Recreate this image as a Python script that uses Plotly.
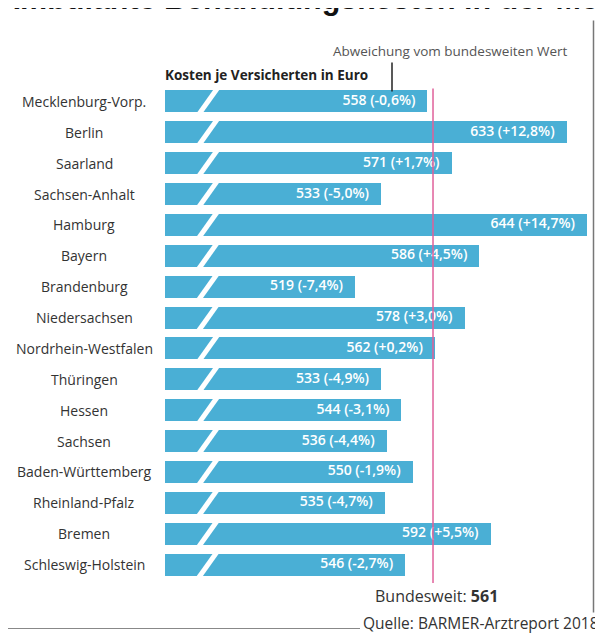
import plotly.graph_objects as go

states = ["Mecklenburg-Vorp.", "Berlin", "Saarland", "Sachsen-Anhalt", "Hamburg", "Bayern",
          "Brandenburg", "Niedersachsen", "Nordrhein-Westfalen", "Thüringen", "Hessen",
          "Sachsen", "Baden-Württemberg", "Rheinland-Pfalz", "Bremen", "Schleswig-Holstein"]
costs = [558, 633, 571, 533, 644, 586, 519, 578, 562, 533, 544, 536, 550, 535, 592, 546]
deviation = ["-0,6", "+12,8", "+1,7", "-5,0", "+14,7", "+4,5", "-7,4", "+3,0", "+0,2",
             "-4,9", "-3,1", "-4,4", "-1,9", "-4,7", "+5,5", "-2,7"]
national = 561

# page body has an 8px margin; positions below are given in window pixels
OFF = 8
W, H = 603 - OFF, 633 - OFF
PL, PR, PT, PB = 165, 595, 85.5, 580.4          # plot area in window pixels
ML, MR, MT, MB = PL - OFF, W - (PR - OFF), PT - OFF, H - (PB - OFF)
PW, PH = PR - PL, PB - PT
PXU = 1.856                                      # pixels per euro
XMIN = 416.6
XMAX = XMIN + PW / PXU

def px(p):
    return (p - PL) / PW

def py(p):
    return (PB - p) / PH

FONT = "Open Sans"
BAR = "#4AAFD5"
idx = list(range(len(states)))

fig = go.Figure()
fig.add_trace(go.Bar(y=idx, x=costs, orientation="h", marker=dict(color=BAR, line=dict(width=0)),
                     width=0.71, hoverinfo="skip", showlegend=False))

# axis-break slashes
sx, sy = [], []
unit = 1 / PXU
for i in idx:
    c = XMIN + 43 * unit
    d = 11 * unit
    sx += [c - d, c + d, None]
    sy += [i + 0.5, i - 0.5, None]
fig.add_trace(go.Scatter(x=sx, y=sy, mode="lines", line=dict(color="white", width=5),
                         hoverinfo="skip", showlegend=False))

# value labels
fig.add_trace(go.Scatter(x=[v - 12 * unit for v in costs], y=idx, mode="text",
                         text=[f"{v} ({d}%)" for v, d in zip(costs, deviation)],
                         textposition="middle left",
                         textfont=dict(family=FONT, size=14, color="white", weight=600),
                         hoverinfo="skip", showlegend=False))

shapes = [
    dict(type="line", xref="x", yref="paper", x0=national, x1=national, y0=-0.006, y1=0.995,
         line=dict(color="#E0609A", width=1.5)),
    dict(type="line", xref="paper", yref="paper", x0=px(392), x1=px(392), y0=py(62), y1=py(91),
         line=dict(color="#222", width=1.5)),
    dict(type="line", xref="paper", yref="paper", x0=px(593.5), x1=px(593.5), y0=py(613), y1=py(20),
         line=dict(color="#777", width=1.5), layer="above"),
    dict(type="line", xref="paper", yref="paper", x0=px(8), x1=px(360), y0=py(629), y1=py(629),
         line=dict(color="#888", width=1)),
]

ann = []
for i, s in enumerate(states):
    ann.append(dict(x=px(84), y=i, xref="paper", yref="y", text=s, showarrow=False,
                    xanchor="center", yanchor="middle",
                    font=dict(family=FONT, size=14, color="#333")))
ann += [
    dict(x=px(-4), y=py(17), xref="paper", yref="paper", xanchor="left", yanchor="bottom",
         text="<b>Ambulante Behandlungskosten in der Metropole</b>", showarrow=False,
         font=dict(family="Liberation Sans", size=30.5, color="#111")),
    dict(x=px(450), y=py(50), xref="paper", yref="paper", xanchor="center", yanchor="middle",
         text="Abweichung vom bundesweiten Wert", showarrow=False,
         font=dict(family=FONT, size=13.5, color="#555")),
    dict(x=px(165), y=py(74), xref="paper", yref="paper", xanchor="left", yanchor="middle",
         text="<b>Kosten je Versicherten in Euro</b>", showarrow=False, xshift=-2,
         font=dict(family=FONT, size=13.5, color="#222")),
    dict(x=px(375), y=py(596), xref="paper", yref="paper", xanchor="left", yanchor="middle",
         text=f"Bundesweit: <b>{national}</b>", showarrow=False, xshift=-2,
         font=dict(family=FONT, size=16, color="#333")),
    dict(x=px(363), y=py(623), xref="paper", yref="paper", xanchor="left", yanchor="middle",
         text="Quelle: BARMER-Arztreport 2018", showarrow=False, xshift=-2,
         font=dict(family=FONT, size=15.5, color="#333")),
]

fig.update_layout(
    width=W, height=H, margin=dict(l=ML, r=MR, t=MT, b=MB, autoexpand=False),
    paper_bgcolor="white", plot_bgcolor="white",
    xaxis=dict(range=[XMIN, XMAX], visible=False, fixedrange=True),
    yaxis=dict(range=[len(states) - 0.5, -0.5], visible=False, fixedrange=True),
    shapes=shapes, annotations=ann, bargap=0,
)
fig.write_html("out.html")
